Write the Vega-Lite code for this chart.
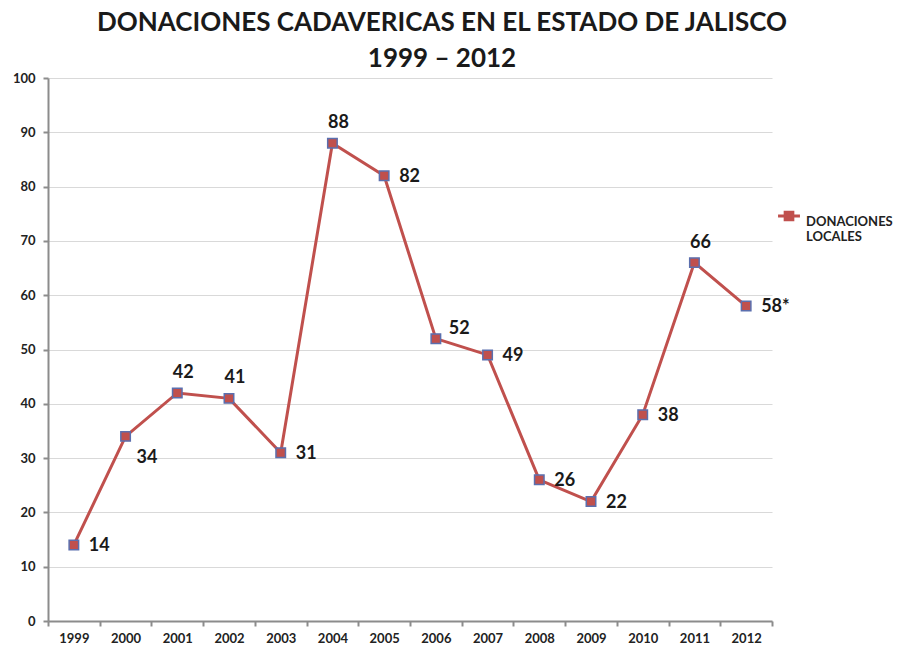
{
  "$schema": "https://vega.github.io/schema/vega-lite/v6.json",
  "autosize": {"type": "none"},
  "width": 724,
  "height": 543,
  "padding": {"left": 48, "top": 78, "right": 127, "bottom": 27},
  "background": "white",
  "config": {
    "font": "Lato",
    "view": {"stroke": null}
  },
  "title": {
    "text": ["DONACIONES CADAVERICAS EN EL ESTADO DE JALISCO", "1999 – 2012"],
    "font": "Lato",
    "fontSize": 26,
    "fontWeight": "bold",
    "color": "#1a1a1a",
    "lineHeight": 36,
    "anchor": "middle",
    "dx": 32,
    "offset": 0
  },
  "data": {
    "values": [
      {"anio": "1999", "valor": 14, "etiqueta": "14", "serie": "DONACIONES LOCALES"},
      {"anio": "2000", "valor": 34, "etiqueta": "34", "serie": "DONACIONES LOCALES"},
      {"anio": "2001", "valor": 42, "etiqueta": "42", "serie": "DONACIONES LOCALES"},
      {"anio": "2002", "valor": 41, "etiqueta": "41", "serie": "DONACIONES LOCALES"},
      {"anio": "2003", "valor": 31, "etiqueta": "31", "serie": "DONACIONES LOCALES"},
      {"anio": "2004", "valor": 88, "etiqueta": "88", "serie": "DONACIONES LOCALES"},
      {"anio": "2005", "valor": 82, "etiqueta": "82", "serie": "DONACIONES LOCALES"},
      {"anio": "2006", "valor": 52, "etiqueta": "52", "serie": "DONACIONES LOCALES"},
      {"anio": "2007", "valor": 49, "etiqueta": "49", "serie": "DONACIONES LOCALES"},
      {"anio": "2008", "valor": 26, "etiqueta": "26", "serie": "DONACIONES LOCALES"},
      {"anio": "2009", "valor": 22, "etiqueta": "22", "serie": "DONACIONES LOCALES"},
      {"anio": "2010", "valor": 38, "etiqueta": "38", "serie": "DONACIONES LOCALES"},
      {"anio": "2011", "valor": 66, "etiqueta": "66", "serie": "DONACIONES LOCALES"},
      {"anio": "2012", "valor": 58, "etiqueta": "58*", "serie": "DONACIONES LOCALES"}
    ]
  },
  "encoding": {
    "x": {
      "field": "anio", "type": "ordinal",
      "scale": {"type": "band", "paddingInner": 0, "paddingOuter": 0},
      "axis": {
        "title": null, "labelAngle": 0, "tickBand": "extent",
        "domainColor": "#8c8c8c", "domainWidth": 2,
        "tickColor": "#8c8c8c", "tickWidth": 2, "tickSize": 5,
        "labelFont": "Lato", "labelFontSize": 13, "labelFontWeight": "bold",
        "labelColor": "#222", "labelPadding": 6, "grid": false
      }
    },
    "y": {
      "field": "valor", "type": "quantitative",
      "scale": {"domain": [0, 100], "nice": false},
      "axis": {
        "title": null, "values": [0,10,20,30,40,50,60,70,80,90,100],
        "domainColor": "#8c8c8c", "domainWidth": 2,
        "tickColor": "#8c8c8c", "tickWidth": 2, "tickSize": 5,
        "gridColor": "#d9d9d9", "gridWidth": 1,
        "labelFont": "Lato", "labelFontSize": 13, "labelFontWeight": "bold",
        "labelColor": "#222", "labelPadding": 8
      }
    }
  },
  "layer": [
    {
      "mark": {"type": "line", "strokeWidth": 3},
      "encoding": {
        "color": {
          "field": "serie", "type": "nominal",
          "scale": {"range": ["#c0504d"]},
          "legend": {
            "title": null, "orient": "none", "legendX": 734, "legendY": 131,
            "symbolType": "M-2,0H2M-0.7,-0.7H0.7V0.7H-0.7Z",
            "symbolSize": 120, "symbolStrokeWidth": 3,
            "symbolFillColor": "#c0504d", "symbolStrokeColor": "#c0504d",
            "labelFont": "Lato", "labelFontSize": 13, "labelFontWeight": "bold", "labelColor": "#222",
            "labelExpr": "split(datum.label, ' ')", "labelLimit": 200,
            "labelOffset": 10, "labelBaseline": "top"
          }
        }
      }
    },
    {
      "mark": {"type": "point", "shape": "square", "filled": true, "size": 90, "fill": "#c0504d", "stroke": "#5b6fae", "strokeWidth": 1.5, "opacity": 1}
    },
    {
      "transform": [{"filter": "indexof(['1999','2003','2005','2007','2008','2009','2010','2012'], datum.anio) >= 0"}],
      "mark": {"type": "text", "align": "left", "baseline": "middle", "dx": 15, "dy": 1, "fontSize": 18, "fontWeight": "bold", "font": "Lato", "color": "#1a1a1a"},
      "encoding": {"text": {"field": "etiqueta"}}
    },
    {
      "transform": [{"filter": "indexof(['2001','2002','2004','2011'], datum.anio) >= 0"}],
      "mark": {"type": "text", "align": "center", "baseline": "middle", "dx": 6, "dy": -20, "fontSize": 18, "fontWeight": "bold", "font": "Lato", "color": "#1a1a1a"},
      "encoding": {"text": {"field": "etiqueta"}}
    },
    {
      "transform": [{"filter": "datum.anio == '2000'"}],
      "mark": {"type": "text", "align": "left", "baseline": "middle", "dx": 11, "dy": 22, "fontSize": 18, "fontWeight": "bold", "font": "Lato", "color": "#1a1a1a"},
      "encoding": {"text": {"field": "etiqueta"}}
    },
    {
      "transform": [{"filter": "datum.anio == '2006'"}],
      "mark": {"type": "text", "align": "left", "baseline": "middle", "dx": 13, "dy": -10, "fontSize": 18, "fontWeight": "bold", "font": "Lato", "color": "#1a1a1a"},
      "encoding": {"text": {"field": "etiqueta"}}
    }
  ]
}
